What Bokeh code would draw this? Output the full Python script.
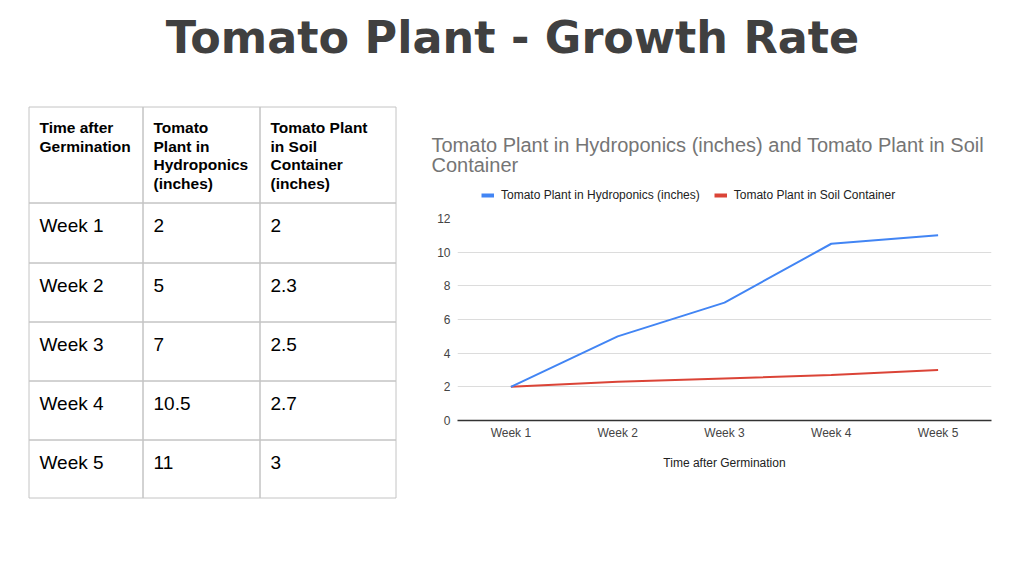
from bokeh.plotting import figure
from bokeh.models import Range1d, FactorRange, Legend, LegendItem
from bokeh.layouts import column, row
from bokeh.embed import file_html
from bokeh.resources import INLINE
from bokeh.core.properties import value

# ---------------- data ----------------
slide_title = "Tomato Plant - Growth Rate"
weeks = ["Week 1", "Week 2", "Week 3", "Week 4", "Week 5"]
hydro = [2, 5, 7, 10.5, 11]
soil = [2, 2.3, 2.5, 2.7, 3]
table_headers = ["Time after\nGermination",
                 "Tomato\nPlant in\nHydroponics\n(inches)",
                 "Tomato Plant\nin Soil\nContainer\n(inches)"]
series_names = ["Tomato Plant in Hydroponics (inches)", "Tomato Plant in Soil Container"]
chart_title_lines = ["Tomato Plant in Hydroponics (inches) and Tomato Plant in Soil", "Container"]
x_title = "Time after Germination"
y_ticks = [0, 2, 4, 6, 8, 10, 12]

# ---------------- styles / layout ----------------
FONT = "Liberation Sans"
BLUE = "#4285F4"
RED = "#DB4437"


def blank(w, h, x0, x1, ybot, ytop):
    f = figure(width=w, height=h, x_range=Range1d(x0, x1), y_range=Range1d(ybot, ytop),
               x_axis_type=None, y_axis_type=None, output_backend="svg",
               toolbar_location=None, min_border=0, frame_align=False)
    f.grid.visible = False
    f.outline_line_color = None
    return f


# ---- slide title strip (page px coords) ----
tf = blank(1008, 98, 0, 1008, 98, 0)
tf.text(x=[512], y=[37], text=[slide_title], text_font=value("DejaVu Sans"),
        text_font_style="bold", text_font_size="44.5px", text_color="#404040",
        text_align="center", text_baseline="alphabetic")

# ---- table (page px coords) ----
tb = blank(420, 462, 0, 420, 560, 98)
col_edges = [28.5, 142.5, 259.5, 395.5]
row_edges = [106.5, 202.5, 262.5, 321.5, 380.5, 439.5, 497.5]
L, R, T, B = [], [], [], []
for i in range(len(row_edges) - 1):
    for j in range(len(col_edges) - 1):
        L.append(col_edges[j]); R.append(col_edges[j + 1])
        T.append(row_edges[i]); B.append(row_edges[i + 1])
tb.quad(left=L, right=R, top=T, bottom=B, fill_color=None,
        line_color="#c4c4c4", line_width=1)

hx, hy, ht = [], [], []
for j, h in enumerate(table_headers):
    for k, line in enumerate(h.split("\n")):
        hx.append(col_edges[j] + 10.5)
        hy.append(row_edges[0] + 20.5 + k * 18.7)
        ht.append(line)
tb.text(x=hx, y=hy, text=ht, text_font=value(FONT), text_font_style="bold",
        text_font_size="15.5px", text_color="#000000", text_baseline="alphabetic")

dx, dy, dt = [], [], []
for i, wk in enumerate(weeks):
    cells = [wk, f"{hydro[i]:g}", f"{soil[i]:g}"]
    for j, c in enumerate(cells):
        dx.append(col_edges[j] + 10.5)
        dy.append(row_edges[i + 1] + 22)
        dt.append(c)
tb.text(x=dx, y=dy, text=dt, text_font=value(FONT), text_font_size="19px",
        text_color="#000000", text_baseline="alphabetic")

# ---- chart header: title + legend (page px coords) ----
hf = blank(588, 110, 420, 1008, 208, 98)
hf.text(x=[431, 431], y=[144.5, 164], text=chart_title_lines, text_font=value(FONT),
        text_font_size="20px", text_color="#757575", text_baseline="alphabetic")
# legend keys (hidden renderers carrying the series colours)
lg1 = hf.line(list(range(len(hydro))), hydro, line_color=BLUE, line_width=4, visible=False)
lg2 = hf.line(list(range(len(soil))), soil, line_color=RED, line_width=4, visible=False)
legend = Legend(items=[LegendItem(label=series_names[0], renderers=[lg1]),
                       LegendItem(label=series_names[1], renderers=[lg2])],
                location=(61, 6.5), orientation="horizontal",
                glyph_width=13, glyph_height=14, label_height=14, label_standoff=7,
                spacing=14, padding=0, margin=0, border_line_color=None,
                background_fill_alpha=0, label_text_font=FONT,
                label_text_font_size="12px", label_text_color="#222222")
hf.add_layout(legend, "center")

# ---- chart ----
p = figure(width=588, height=352, x_range=FactorRange(*weeks), y_range=Range1d(0, 12),
           output_backend="svg", toolbar_location=None, frame_align=False,
           min_border_left=37, min_border_right=17, min_border_top=10, min_border_bottom=140)
p.outline_line_color = None
p.xgrid.visible = False
p.ygrid.grid_line_color = "#dcdcdc"
p.ygrid.grid_line_width = 1
p.yaxis.ticker = y_ticks
p.yaxis.axis_line_color = None
p.yaxis.major_tick_line_color = None
p.yaxis.minor_tick_line_color = None
p.yaxis.major_tick_out = 0
p.yaxis.major_label_standoff = 7
p.yaxis.major_label_text_font = FONT
p.yaxis.major_label_text_font_size = "12px"
p.yaxis.major_label_text_color = "#444444"

p.xaxis.axis_line_color = "#333333"
p.xaxis.axis_line_width = 1.3
p.xaxis.major_tick_line_color = None
p.xaxis.minor_tick_line_color = None
p.xaxis.major_tick_out = 0
p.xaxis.major_label_standoff = 5
p.xaxis.major_label_text_font = FONT
p.xaxis.major_label_text_font_size = "12px"
p.xaxis.major_label_text_color = "#444444"
p.xaxis.axis_label = x_title
p.xaxis.axis_label_text_font = FONT
p.xaxis.axis_label_text_font_size = "12px"
p.xaxis.axis_label_text_font_style = "normal"
p.xaxis.axis_label_text_color = "#222222"
p.xaxis.axis_label_standoff = 13

p.line(weeks, soil, line_color=RED, line_width=2)
p.line(weeks, hydro, line_color=BLUE, line_width=2)

layout = column(tf, row(tb, column(hf, p, spacing=0), spacing=0), spacing=0)
open("out.html", "w").write(file_html(layout, INLINE))
